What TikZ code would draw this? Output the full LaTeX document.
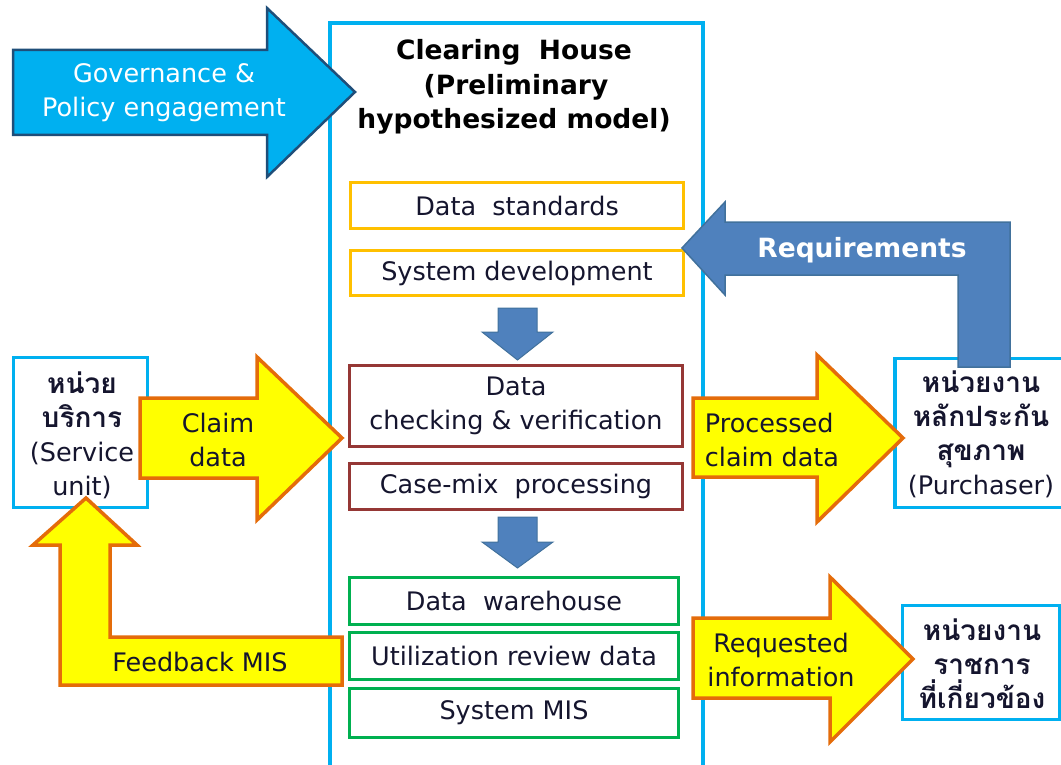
\documentclass[tikz,border=0pt]{standalone}
\usepackage{fontspec}
\setmainfont{DejaVu Sans}
\newfontfamily\thaifont[Script=Thai]{Loma}

\definecolor{cyanline}{HTML}{00B0F0}
\definecolor{govedge}{HTML}{1F4E79}
\definecolor{steel}{HTML}{4F81BD}
\definecolor{steeledge}{HTML}{41719C}
\definecolor{yel}{HTML}{FFFF00}
\definecolor{orng}{HTML}{E46C0A}
\definecolor{gold}{HTML}{FFC000}
\definecolor{brick}{HTML}{953735}
\definecolor{grn}{HTML}{00B050}
\definecolor{ink}{HTML}{15152E}

\newcommand\bodysize{\fontsize{25.5}{34}\selectfont}
\newcommand\boldsize{\fontsize{26.5}{34}\selectfont\bfseries}
\newcommand\thaisize{\fontsize{28}{34}\selectfont}
\newcommand\thai[1]{{\thaifont\bfseries #1}}

\tikzset{
  stagebox/.style={draw=#1, line width=3.5pt, fill=white, inner sep=0pt,
    text=ink, font=\bodysize, align=center},
  unitbox/.style={draw=cyanline, line width=3.5pt, fill=white, inner sep=0pt},
  unittext/.style={text=ink, align=center, inner sep=0pt},
  yarrow/.style={fill=yel, draw=orng, line width=3.5pt, line join=miter},
  barrow/.style={fill=steel, draw=steeledge, line width=1pt},
  label/.style={text=ink, font=\bodysize, align=center, inner sep=0pt},
}

\begin{document}
\begin{tikzpicture}[x=1pt,y=-1pt]
\useasboundingbox (0,0) rectangle (1061,765);

% clearing house frame
\draw[cyanline, line width=4pt] (330,790) -- (330,23) -- (703,23) -- (703,790);
\node[text=black, font=\boldsize, anchor=base] (t1) at (514,60) {Clearing\ \ House};
\node[text=black, font=\boldsize, anchor=base] (t2) at (516,95) {(Preliminary};
\node[text=black, font=\boldsize, anchor=base] (t3) at (514,129) {hypothesized model)};

% stages inside the clearing house
\node[stagebox=gold, minimum width=333pt, minimum height=46pt] (std) at (517,205.5) {Data\ \ standards};
\node[stagebox=gold, minimum width=333pt, minimum height=45pt] (sys) at (517,273) {System development};
\node[stagebox=brick, minimum width=333pt, minimum height=81pt] (chk) at (516,406) {Data\\checking \& verification};
\node[stagebox=brick, minimum width=333pt, minimum height=46pt] (cmx) at (516,486.5) {Case-mix\ \ processing};
\node[stagebox=grn, minimum width=329pt, minimum height=47pt] (dw) at (514,601) {Data\ \ warehouse};
\node[stagebox=grn, minimum width=329pt, minimum height=47pt] (ur) at (514,656) {Utilization review data};
\node[stagebox=grn, minimum width=329pt, minimum height=49pt] (mis) at (514,713) {System MIS};

% flow arrows between stage groups
\draw[barrow] (498,308) -- (537,308) -- (537,332) -- (553,332) -- (517.5,360)
  -- (482,332) -- (498,332) -- cycle;
\draw[barrow] (498,517) -- (537,517) -- (537,542) -- (553,542) -- (517.5,568)
  -- (482,542) -- (498,542) -- cycle;

% outside units
\node[unitbox, minimum width=134pt, minimum height=150pt] (svc) at (80.5,432.5) {};
\node[unittext, font=\thaisize] (svct) at (82,435)
  {\thai{หน่วย}\\\thai{บริการ}\\{\bodysize(Service}\\{\bodysize unit)}};
\node[unitbox, minimum width=168pt, minimum height=149pt] (pur) at (979,433) {};
\node[unitbox, minimum width=157pt, minimum height=114pt] (gov) at (981,662.5) {};

% governance arrow
\draw[fill=cyanline, draw=govedge, line width=2.5pt]
  (13,50) -- (267,50) -- (267,8) -- (355,92) -- (267,177) -- (267,135) -- (13,135) -- cycle;
\node[text=white, font=\bodysize, align=center, inner sep=0pt] (govt) at (164,93)
  {Governance \&\\Policy engagement};

% requirements arrow
\draw[barrow, line width=1.5pt]
  (682,248) -- (725,202) -- (725,222) -- (1010,222) -- (1010,367) -- (958,367)
  -- (958,275) -- (725,275) -- (725,295) -- cycle;
\node[text=white, font=\boldsize, inner sep=0pt, anchor=base] (req) at (862,257) {Requirements};

% claim data arrow
\draw[yarrow] (140,398) -- (257,398) -- (257,357) -- (342,438) -- (257,520)
  -- (257,478) -- (140,478) -- cycle;
\node[label] (claim) at (218,440) {Claim\\data};

% processed claim data arrow
\draw[yarrow] (693,398) -- (817,398) -- (817,355) -- (903,438) -- (817,522)
  -- (817,477) -- (693,477) -- cycle;
\node[label, align=left] (proc) at (772,440) {Processed\\claim data};

% requested information arrow
\draw[yarrow] (693,618) -- (830,618) -- (830,577) -- (913,659) -- (830,742)
  -- (830,698) -- (693,698) -- cycle;
\node[label] (reqi) at (781,660) {Requested\\information};

% feedback arrow
\draw[yarrow] (86,498) -- (137,545) -- (110,545) -- (110,637) -- (342,637)
  -- (342,685) -- (60,685) -- (60,545) -- (33,545) -- cycle;
\node[label, anchor=base] (fb) at (200,671) {Feedback MIS};

% texts of the receiving units
\node[unittext, font=\thaisize] (purt) at (981,434)
  {\thai{หน่วยงาน}\\\thai{หลักประกัน}\\\thai{สุขภาพ}\\{\bodysize(Purchaser)}};
\node[unittext, font=\thaisize] (govu) at (982,664)
  {\thai{หน่วยงาน}\\\thai{ราชการ}\\\thai{ที่เกี่ยวข้อง}};
\end{tikzpicture}
\end{document}
